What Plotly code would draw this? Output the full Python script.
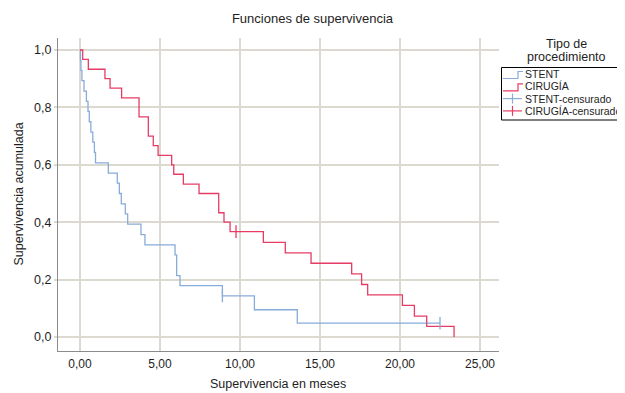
import plotly.graph_objects as go

# ---------------- data ----------------
stent_t = [0, 0.03, 0.06, 0.12, 0.25, 0.40, 0.50, 0.58, 0.68, 0.80, 0.90, 0.97,
           1.77, 2.33, 2.46, 2.58, 2.83, 2.98, 3.81, 4.06, 5.94, 6.04, 6.25,
           8.90, 10.90, 13.58, 22.50]
stent_s = [1.0, 0.964, 0.929, 0.893, 0.857, 0.821, 0.786, 0.750, 0.714, 0.679, 0.643, 0.607,
           0.571, 0.536, 0.500, 0.464, 0.429, 0.393, 0.357, 0.321, 0.286, 0.214, 0.179,
           0.143, 0.095, 0.048, 0.048]
stent_cens_t = [8.90, 22.50]
stent_cens_s = [0.143, 0.048]

cir_t = [0, 0.17, 0.52, 1.56, 1.88, 2.60, 3.69, 4.27, 4.58, 4.88, 5.73, 5.86, 6.46,
         7.44, 8.67, 9.00, 9.38, 11.46, 12.83, 14.44, 16.98, 17.60, 17.98, 20.15,
         20.90, 21.67, 23.38]
cir_s = [1.0, 0.967, 0.933, 0.900, 0.867, 0.833, 0.767, 0.700, 0.667, 0.633, 0.600, 0.567, 0.533,
         0.500, 0.433, 0.400, 0.367, 0.330, 0.293, 0.257, 0.220, 0.183, 0.147, 0.110,
         0.073, 0.037, 0.0]
cir_cens_t = [9.75]
cir_cens_s = [0.367]

legend_labels = ["STENT", "CIRUGÍA", "STENT-censurado", "CIRUGÍA-censurado"]
x_ticks = [0, 5, 10, 15, 20, 25]
y_ticks = [0, 0.2, 0.4, 0.6, 0.8, 1.0]

# ---------------- styling ----------------
BLUE = "#88acd9"
RED = "#e63c64"
GRID = "#dcd9d1"
FONT = "Liberation Sans, Arial, sans-serif"
TXT = "#1e1e1e"

OFF = 8                      # page body margin of the html document
W, H = 625 - OFF, 393 - OFF
X0, X1, Y0, Y1 = 58, 499, 38, 351   # plot area in window pixels


def px(x):
    return (x - X0) / (X1 - X0)


def py(y):
    return (Y1 - y) / (Y1 - Y0)


fig = go.Figure()
fig.add_trace(go.Scatter(x=stent_t, y=stent_s, mode="lines", line_shape="hv",
                         line=dict(color=BLUE, width=1.3), name=legend_labels[0],
                         showlegend=False))
fig.add_trace(go.Scatter(x=cir_t, y=cir_s, mode="lines", line_shape="hv",
                         line=dict(color=RED, width=1.3), name=legend_labels[1],
                         showlegend=False))
fig.add_trace(go.Scatter(x=stent_cens_t, y=stent_cens_s, mode="markers",
                         marker=dict(symbol="line-ns", size=9,
                                     line=dict(color=BLUE, width=1.3)),
                         name=legend_labels[2], showlegend=False))
fig.add_trace(go.Scatter(x=cir_cens_t, y=cir_cens_s, mode="markers",
                         marker=dict(symbol="line-ns", size=9,
                                     line=dict(color=RED, width=1.3)),
                         name=legend_labels[3], showlegend=False))

# ---------------- manual legend (SPSS style) ----------------
shapes = []
annotations = []
shapes.append(dict(type="rect", xref="paper", yref="paper",
                   x0=px(501.5), x1=px(623), y0=py(67.5), y1=py(120),
                   line=dict(color="black", width=1), fillcolor="white", layer="above"))
row_y = [74, 86.3, 98.6, 110.9]
colors = [BLUE, RED, BLUE, RED]
for i, (lab, c, yy) in enumerate(zip(legend_labels, colors, row_y)):
    if i < 2:
        path = (f"M {px(503)},{py(yy + 4.5)} L {px(518)},{py(yy + 4.5)} "
                f"L {px(518)},{py(yy - 2.5)} L {px(523)},{py(yy - 2.5)}")
        shapes.append(dict(type="path", xref="paper", yref="paper", path=path,
                           line=dict(color=c, width=1.2), layer="above"))
    else:
        shapes.append(dict(type="line", xref="paper", yref="paper",
                           x0=px(503), x1=px(522), y0=py(yy), y1=py(yy),
                           line=dict(color=c, width=1.2), layer="above"))
        shapes.append(dict(type="line", xref="paper", yref="paper",
                           x0=px(512.5), x1=px(512.5), y0=py(yy - 5), y1=py(yy + 5),
                           line=dict(color=c, width=1.2), layer="above"))
    annotations.append(dict(xref="paper", yref="paper", x=px(522.5), y=py(yy),
                            xanchor="left", yanchor="middle", showarrow=False,
                            text=lab, font=dict(family=FONT, size=10.5, color=TXT)))

annotations.append(dict(xref="paper", yref="paper", x=px(566), y=py(44),
                        xanchor="center", yanchor="middle", showarrow=False,
                        text="Tipo de", font=dict(family=FONT, size=12.5, color=TXT)))
annotations.append(dict(xref="paper", yref="paper", x=px(566), y=py(57),
                        xanchor="center", yanchor="middle", showarrow=False,
                        text="procedimiento", font=dict(family=FONT, size=12.5, color=TXT)))

# axis titles as annotations at fixed positions
annotations.append(dict(xref="paper", yref="paper", x=px(277.5), y=py(384),
                        xanchor="center", yanchor="middle", showarrow=False,
                        text="Supervivencia en meses",
                        font=dict(family=FONT, size=12.5, color=TXT)))
annotations.append(dict(xref="paper", yref="paper", x=px(18), y=py(194.5),
                        xanchor="center", yanchor="middle", showarrow=False,
                        textangle=-90, text="Supervivencia acumulada",
                        font=dict(family=FONT, size=12.5, color=TXT)))

x_range = [(X0 - 80) / 16.0, (X1 - 80) / 16.0]
y_range = [(337 - Y1) / 287.0, (337 - Y0) / 287.0]

fig.update_layout(
    width=W, height=H,
    margin=dict(l=X0 - OFF, r=W - (X1 - OFF), t=Y0 - OFF, b=H - (Y1 - OFF), pad=0,
                autoexpand=False),
    paper_bgcolor="white", plot_bgcolor="white",
    separators=",.",
    font=dict(family=FONT, size=12, color=TXT),
    title=dict(text="Funciones de supervivencia", x=(312.5 - OFF) / W, xref="container",
               xanchor="center", y=1 - (18 - OFF) / H, yref="container", yanchor="middle",
               font=dict(family=FONT, size=13, color=TXT)),
    shapes=shapes,
    annotations=annotations,
    showlegend=False,
    xaxis=dict(range=x_range, tickvals=x_ticks, tickformat=".2f", automargin=False,
               showgrid=True, gridcolor=GRID, gridwidth=1.5, zeroline=False,
               showline=True, linecolor="#8c8c8c", linewidth=1,
               ticks="", ticklabelstandoff=2,
               tickfont=dict(family=FONT, size=12, color=TXT)),
    yaxis=dict(range=y_range, tickvals=y_ticks, tickformat=".1f", automargin=False,
               showgrid=True, gridcolor=GRID, gridwidth=1.5, zeroline=False,
               showline=True, linecolor="#8c8c8c", linewidth=1,
               ticks="outside", ticklen=3, tickcolor=GRID, tickwidth=1.5,
               tickfont=dict(family=FONT, size=12.5, color=TXT)),
)

fig.write_html("out.html")
